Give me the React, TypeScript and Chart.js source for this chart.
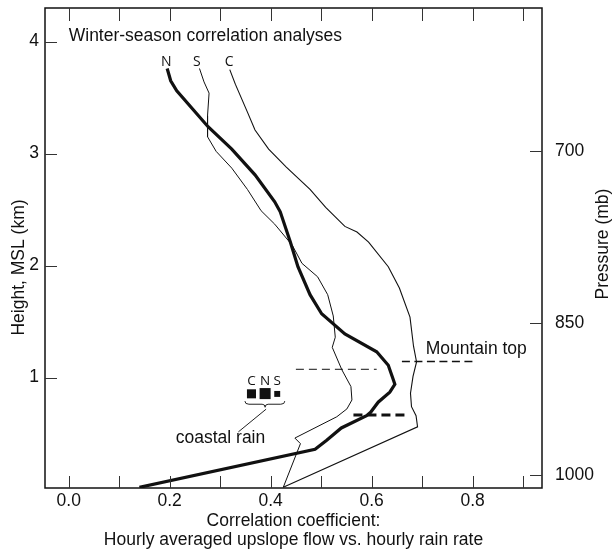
import React, { useEffect, useRef } from 'react';
import { Chart, registerables } from 'chart.js';

Chart.register(...registerables);

// ---- Data (correlation coefficient vs. height MSL, km) ----
const N_CORR = [0.195, 0.202, 0.214, 0.276, 0.323, 0.369, 0.408, 0.419, 0.439, 0.454, 0.478, 0.501, 0.547, 0.61, 0.633, 0.643, 0.646, 0.636, 0.613, 0.598, 0.59, 0.54, 0.511, 0.488, 0.14];
const N_HEIGHT = [3.76, 3.65, 3.56, 3.24, 3.04, 2.81, 2.57, 2.48, 2.21, 1.99, 1.74, 1.57, 1.39, 1.23, 1.11, 0.98, 0.94, 0.87, 0.78, 0.69, 0.66, 0.55, 0.44, 0.36, 0.02];

const S_CORR = [0.259, 0.268, 0.278, 0.275, 0.275, 0.292, 0.323, 0.354, 0.381, 0.408, 0.443, 0.462, 0.493, 0.513, 0.524, 0.528, 0.522, 0.541, 0.559, 0.561, 0.551, 0.531, 0.448, 0.459, 0.425];
const S_HEIGHT = [3.76, 3.64, 3.54, 3.34, 3.15, 3.02, 2.87, 2.68, 2.49, 2.37, 2.18, 2.02, 1.9, 1.74, 1.55, 1.36, 1.27, 1.07, 0.92, 0.8, 0.72, 0.65, 0.46, 0.41, 0.02];

const C_CORR = [0.319, 0.33, 0.354, 0.369, 0.396, 0.431, 0.478, 0.509, 0.547, 0.571, 0.594, 0.633, 0.655, 0.676, 0.683, 0.689, 0.682, 0.677, 0.679, 0.688, 0.691, 0.425];
const C_HEIGHT = [3.75, 3.62, 3.37, 3.21, 3.04, 2.88, 2.68, 2.52, 2.35, 2.3, 2.21, 1.99, 1.8, 1.54, 1.28, 1.14, 1.01, 0.86, 0.74, 0.66, 0.56, 0.02];

// dashed reference lines: [corr start, corr end, height]
const THIN_DASH = [0.45, 0.61, 1.074];
const MOUNTAIN_DASH = [0.66, 0.807, 1.143];
const THICK_DASH = [0.564, 0.669, 0.665];

// coastal rain squares (C, N, S)
const COASTAL_LABELS = ['C', 'N', 'S'];
const COASTAL_CORR = [0.362, 0.389, 0.413];
const COASTAL_HEIGHT = [0.855, 0.857, 0.854];

// ticks
const X_TICKS = [0, 0.1, 0.2, 0.3, 0.4, 0.5, 0.6, 0.7, 0.8, 0.9];
const HEIGHT_TICKS = [1, 2, 3, 4];
const PRESSURE_LABELS = ['700', '850', '1000'];
const PRESSURE_HEIGHTS = [3.02, 1.49, 0.13];

const X_MIN = -0.047;
const X_MAX = 0.9375;
const Y_MIN = 0.014;
const Y_MAX = 4.3;

const FONT = '"Liberation Sans", Arial, Helvetica, sans-serif';
const FS = 17.5;

const pts = (xs: number[], ys: number[]) => xs.map((x, i) => ({ x, y: ys[i] }));
const hline = (d: number[]) => [{ x: d[0], y: d[2] }, { x: d[1], y: d[2] }];

const decorPlugin = {
  id: 'decor',
  afterDatasetsDraw(chart: any) {
    const { ctx, chartArea } = chart;
    const xs = chart.scales.x;
    const ys = chart.scales.y;
    const px = (v: number) => xs.getPixelForValue(v);
    const py = (v: number) => ys.getPixelForValue(v);
    const { left, right, top, bottom } = chartArea;
    ctx.save();
    // frame
    ctx.strokeStyle = '#111';
    ctx.lineWidth = 1.5;
    ctx.strokeRect(left, top, right - left, bottom - top);
    // inward ticks
    ctx.lineWidth = 1;
    ctx.strokeStyle = '#333';
    ctx.beginPath();
    X_TICKS.forEach((v) => {
      const x = Math.round(px(v)) + 0.5;
      ctx.moveTo(x, bottom);
      ctx.lineTo(x, bottom - 12);
      ctx.moveTo(x, top);
      ctx.lineTo(x, top + 13);
    });
    HEIGHT_TICKS.forEach((v) => {
      const y = Math.round(py(v)) + 0.5;
      ctx.moveTo(left, y);
      ctx.lineTo(left + 12, y);
    });
    PRESSURE_HEIGHTS.forEach((v) => {
      const y = Math.round(py(v)) + 0.5;
      ctx.moveTo(right - 12, y);
      ctx.lineTo(right, y);
    });
    ctx.stroke();

    // texts
    ctx.fillStyle = '#111';
    ctx.textBaseline = 'middle';
    ctx.font = `${FS}px ${FONT}`;
    ctx.textAlign = 'left';
    ctx.fillText('Winter-season correlation analyses', px(0.0), py(4.05));
    ctx.fillText('Mountain top', px(0.707), py(1.25));
    ctx.fillText('coastal rain', px(0.212), py(0.459));

    ctx.textAlign = 'center';
    ctx.font = `14px "Open Sans", ${FONT}`;
    ctx.fillText('N', px(0.193), py(3.82));
    ctx.fillText('S', px(0.254), py(3.82));
    ctx.fillText('C', px(0.318), py(3.82));

    ctx.font = `13.5px "Open Sans", ${FONT}`;
    COASTAL_LABELS.forEach((t, i) => {
      ctx.fillText(t, px(COASTAL_CORR[i]), py(0.968));
    });

    // brace and leader
    ctx.strokeStyle = '#222';
    ctx.lineWidth = 1;
    const bx0 = px(0.349), bx1 = px(0.428), bxm = px(0.389);
    const by = py(0.762), byEnd = py(0.79), byTip = py(0.735);
    ctx.beginPath();
    ctx.moveTo(bx0, byEnd);
    ctx.quadraticCurveTo(bx0, by, bx0 + 4, by);
    ctx.lineTo(bxm - 3, by);
    ctx.quadraticCurveTo(bxm, by, bxm, byTip);
    ctx.quadraticCurveTo(bxm, by, bxm + 3, by);
    ctx.lineTo(bx1 - 4, by);
    ctx.quadraticCurveTo(bx1, by, bx1, byEnd);
    ctx.stroke();
    ctx.beginPath();
    ctx.moveTo(px(0.391), py(0.718));
    ctx.lineTo(px(0.336), py(0.515));
    ctx.stroke();

    // rotated axis titles
    ctx.fillStyle = '#111';
    ctx.font = `${FS}px ${FONT}`;
    ctx.textAlign = 'center';
    ctx.textBaseline = 'middle';
    ctx.save();
    ctx.translate(19, 267.5);
    ctx.rotate(-Math.PI / 2);
    ctx.fillText('Height, MSL (km)', 0, 0);
    ctx.restore();
    ctx.save();
    ctx.translate(603, 244);
    ctx.rotate(-Math.PI / 2);
    ctx.fillText('Pressure (mb)', 0, 0);
    ctx.restore();

    ctx.restore();
  },
};

export default function App() {
  const canvasRef = useRef<HTMLCanvasElement | null>(null);

  useEffect(() => {
    if (!canvasRef.current) return;
    const lineBase = {
      type: 'line' as const,
      borderColor: '#111',
      pointRadius: 0,
      fill: false,
      tension: 0,
    };
    const chart = new Chart(canvasRef.current, {
      type: 'line',
      data: {
        datasets: [
          { ...lineBase, label: 'N', data: pts(N_CORR, N_HEIGHT), borderWidth: 3.2 },
          { ...lineBase, label: 'S', data: pts(S_CORR, S_HEIGHT), borderWidth: 1 },
          { ...lineBase, label: 'C', data: pts(C_CORR, C_HEIGHT), borderWidth: 1.1 },
          { ...lineBase, label: 'thin', data: hline(THIN_DASH), borderWidth: 1, borderDash: [8, 5] },
          { ...lineBase, label: 'mountain', data: hline(MOUNTAIN_DASH), borderWidth: 1.6, borderDash: [8, 4.5] },
          { ...lineBase, label: 'thick', data: hline(THICK_DASH), borderWidth: 3, borderDash: [9, 5] },
          {
            type: 'scatter' as const,
            label: 'coastal',
            data: pts(COASTAL_CORR, COASTAL_HEIGHT),
            pointStyle: 'rect',
            pointRadius: [6.4, 7.8, 4.2],
            backgroundColor: '#111',
            borderWidth: 0,
            showLine: false,
          },
        ] as any,
      },
      options: {
        animation: false,
        responsive: false,
        maintainAspectRatio: false,
        parsing: false as any,
        layout: { padding: { top: 8, left: 0, right: 0, bottom: 0 } },
        plugins: { legend: { display: false }, tooltip: { enabled: false }, title: { display: false } },
        scales: {
          x: {
            type: 'linear',
            position: 'bottom',
            min: X_MIN,
            max: X_MAX,
            grid: { display: false, drawTicks: false },
            border: { display: false },
            afterBuildTicks: (s: any) => {
              s.ticks = X_TICKS.map((v) => ({ value: v }));
            },
            afterFit: (s: any) => {
              s.height = 62;
              s.paddingLeft = 0;
              s.paddingRight = 0;
            },
            ticks: {
              autoSkip: false,
              maxRotation: 0,
              padding: 3,
              color: '#111',
              font: { family: FONT, size: FS },
              callback: (v: any) => (Math.round(Number(v) * 10) % 2 === 0 ? Number(v).toFixed(1) : ''),
            },
            title: {
              display: true,
              text: ['Correlation coefficient:', 'Hourly averaged upslope flow vs. hourly rain rate'],
              color: '#111',
              font: { family: FONT, size: FS, lineHeight: 1.1 },
              padding: { top: 0, bottom: 0 },
            },
          },
          y: {
            type: 'linear',
            position: 'left',
            min: Y_MIN,
            max: Y_MAX,
            grid: { display: false, drawTicks: false },
            border: { display: false },
            afterBuildTicks: (s: any) => {
              s.ticks = HEIGHT_TICKS.map((v) => ({ value: v }));
            },
            afterFit: (s: any) => {
              s.width = 45;
              s.paddingTop = 0;
              s.paddingBottom = 0;
            },
            ticks: {
              padding: 6,
              color: '#111',
              font: { family: FONT, size: FS },
              callback: (v: any) => String(v),
            },
          },
          y2: {
            type: 'linear',
            position: 'right',
            min: Y_MIN,
            max: Y_MAX,
            grid: { display: false, drawTicks: false },
            border: { display: false },
            afterBuildTicks: (s: any) => {
              s.ticks = PRESSURE_HEIGHTS.map((v) => ({ value: v }));
            },
            afterFit: (s: any) => {
              s.width = 72;
              s.paddingTop = 0;
              s.paddingBottom = 0;
            },
            ticks: {
              padding: 13,
              color: '#111',
              font: { family: FONT, size: FS },
              callback: (v: any) => {
                const i = PRESSURE_HEIGHTS.indexOf(Number(v));
                return i >= 0 ? PRESSURE_LABELS[i] : '';
              },
            },
          },
        },
      } as any,
      plugins: [decorPlugin],
    });
    return () => chart.destroy();
  }, []);

  return (
    <div style={{ position: 'absolute', left: 0, top: 0, width: 614, height: 550, background: '#fff' }}>
      <canvas ref={canvasRef} width={614} height={550} style={{ display: 'block', width: 614, height: 550 }} />
    </div>
  );
}
